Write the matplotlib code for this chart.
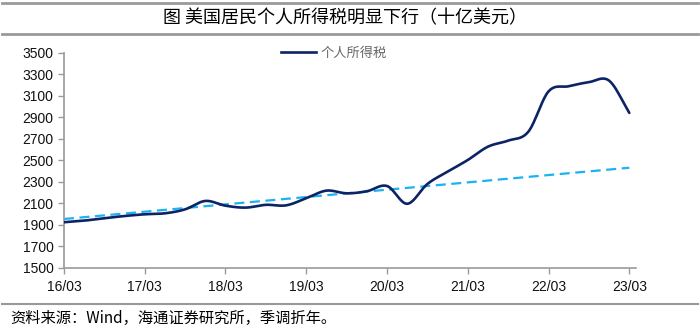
import numpy as np
import matplotlib.pyplot as plt
from matplotlib.lines import Line2D

plt.rcParams['font.family'] = ['Liberation Sans', 'Noto Sans CJK SC', 'DejaVu Sans']

# quarterly personal current taxes, 2016Q1 .. 2023Q1 (billion USD, SAAR)
quarters = ['16/03', '16/06', '16/09', '16/12', '17/03', '17/06', '17/09', '17/12',
            '18/03', '18/06', '18/09', '18/12', '19/03', '19/06', '19/09', '19/12',
            '20/03', '20/06', '20/09', '20/12', '21/03', '21/06', '21/09', '21/12',
            '22/03', '22/06', '22/09', '22/12', '23/03']
tax = [1923, 1938, 1960, 1981, 1997, 2006, 2043, 2121,
       2077, 2059, 2085, 2080, 2146, 2217, 2192, 2211,
       2260, 2095, 2279, 2393, 2502, 2626, 2682, 2765,
       3140, 3188, 3226, 3240, 2940]
# linear trend line end points (16/03 and 23/03)
trend = [1953, 2430]

year_labels = ['16/03', '17/03', '18/03', '19/03', '20/03', '21/03', '22/03', '23/03']


def catmull_rom(x, y, n=20):
    # smooth curve through the points, like a spreadsheet "smoothed line"
    x = np.asarray(x, float)
    y = np.asarray(y, float)
    px = np.concatenate([[2 * x[0] - x[1]], x, [2 * x[-1] - x[-2]]])
    py = np.concatenate([[2 * y[0] - y[1]], y, [2 * y[-1] - y[-2]]])
    xs, ys = [], []
    t = np.linspace(0, 1, n, endpoint=False)
    for i in range(1, len(px) - 2):
        for p, out in ((px, xs), (py, ys)):
            p0, p1, p2, p3 = p[i - 1], p[i], p[i + 1], p[i + 2]
            out.append(0.5 * (2 * p1 + (-p0 + p2) * t
                              + (2 * p0 - 5 * p1 + 4 * p2 - p3) * t ** 2
                              + (-p0 + 3 * p1 - 3 * p2 + p3) * t ** 3))
    xs = np.concatenate(xs + [[x[-1]]])
    ys = np.concatenate(ys + [[y[-1]]])
    return xs, ys


months = np.arange(len(quarters)) * 3
sx, sy = catmull_rom(months, tax)

fig = plt.figure(figsize=(7, 3.29), dpi=100)
ax = fig.add_axes([0.0914, 0.1863, 0.8172, 0.6535])

ax.plot([months[0], months[-1]], trend, color='#1AB2F0', lw=1.6,
        dashes=(4.5, 2.5), zorder=2)
ax.plot(sx, sy, color='#0C2466', lw=1.9, zorder=3, solid_capstyle='round')

ax.set_xlim(0, 85)
ax.set_ylim(1500, 3500)
ax.set_yticks(np.arange(1500, 3501, 200))
ax.set_xticks(np.arange(len(year_labels)) * 12)
ax.set_xticklabels(year_labels)

for s in ['top', 'right']:
    ax.spines[s].set_visible(False)
for s in ['left', 'bottom']:
    ax.spines[s].set_color('#9A9A9A')
    ax.spines[s].set_linewidth(1.2)
ax.tick_params(axis='both', colors='#9A9A9A', labelcolor='#111111',
               labelsize=10, length=4.5, width=1)
ax.tick_params(axis='y', pad=3)
ax.tick_params(axis='x', pad=4)

leg = fig.legend([Line2D([], [], color='#0C2466', lw=1.9)], ['个人所得税'],
                 loc='upper left', bbox_to_anchor=(0.402, 0.857), frameon=False,
                 borderpad=0, borderaxespad=0, handlelength=2.6, handletextpad=0.4,
                 prop={'family': ['Noto Sans CJK SC'], 'size': 9.5})
leg.get_texts()[0].set_color('#666666')

# frame lines of the figure
for y, lw in [(0.991, 2.0), (0.897, 2.0), (0.076, 1.5)]:
    fig.add_artist(Line2D([0.003, 0.997], [y, y], color='#999999', lw=lw))

fig.text(0.493, 0.945, '图 美国居民个人所得税明显下行（十亿美元）', ha='center',
         va='center', fontsize=13, family=['Noto Sans CJK SC'])
fig.text(0.014, 0.033, '资料来源：Wind，海通证券研究所，季调折年。', ha='left',
         va='center', fontsize=11, family=['Noto Sans CJK SC', 'Liberation Sans'])

fig.savefig('out.png', dpi=100)
